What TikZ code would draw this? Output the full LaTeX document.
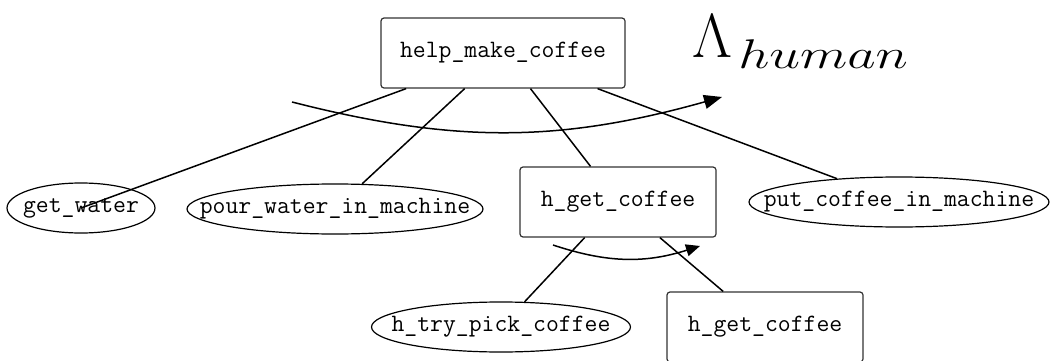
\documentclass[tikz,border=0pt]{standalone}
\usepackage{tikz}
\usetikzlibrary{shapes.geometric, arrows.meta}

% text that does not widen the ellipse round it
\newcommand{\actname}[1]{\makebox[0pt]{#1}}

\begin{document}
\begin{tikzpicture}[x=0.5pt, y=0.5pt,
      task/.style={rectangle, rounded corners=1.5pt, draw=black!80,
                   line width=0.6pt, inner sep=0pt, minimum height=35pt,
                   font=\fontsize{12.5}{15}\selectfont\ttfamily},
      prim/.style={ellipse, draw=black, line width=0.6pt, inner sep=0pt,
                   minimum height=25pt, font=\fontsize{12.5}{15}\selectfont\ttfamily},
      link/.style={line width=0.75pt},
      order/.style={line width=0.75pt, -{Triangle[length=9pt, width=7pt]}}
    ]
    \useasboundingbox (0,0) rectangle (1051,360);

    % Compound tasks
    \node[task, minimum width=122pt] (help)  at (503,307) {help\_make\_coffee};
    \node[task, minimum width=98pt]  (hget)  at (618,158) {h\_get\_coffee};
    \node[task, minimum width=98pt]  (hget2) at (765,33)  {h\_get\_coffee};

    % Primitive actions
    \node[prim, minimum width=74pt]    (gw)   at (81,152)  {\actname{get\_water}};
    \node[prim, minimum width=148pt]   (pour) at (335,151) {\actname{pour\_water\_in\_machine}};
    \node[prim, minimum width=150pt]   (put)  at (899,158) {\actname{put\_coffee\_in\_machine}};
    \node[prim, minimum width=129.5pt] (htry) at (501,33)  {\actname{h\_try\_pick\_coffee}};

    % Label
    \node[anchor=base west, inner sep=0pt] (lam) at (692,303)
          {\Huge$\scalebox{1.25}{$\Lambda$}_{\mbox{\kern3pt\huge\scalebox{1.33}[1]{$human$}}}$};

    % Decomposition links
    \draw[link] (help) -- (gw.center);
    \draw[link] (help) -- (pour);
    \draw[link] (help) -- (hget);
    \draw[link] (help) -- (put);
    \draw[link] (hget) -- (htry);
    \draw[link] (hget) -- (hget2);

    % Ordering arrows
    \coordinate (o1) at (292,258);
    \coordinate (o2) at (722,263);
    \coordinate (s1) at (553,115);
    \coordinate (s2) at (700,114);
    \draw[order] (o1) to[bend right=15] (o2);
    \draw[order, -{Triangle[length=7pt, width=6pt]}] (s1) to[bend right=18] (s2);
  \end{tikzpicture}
\end{document}
